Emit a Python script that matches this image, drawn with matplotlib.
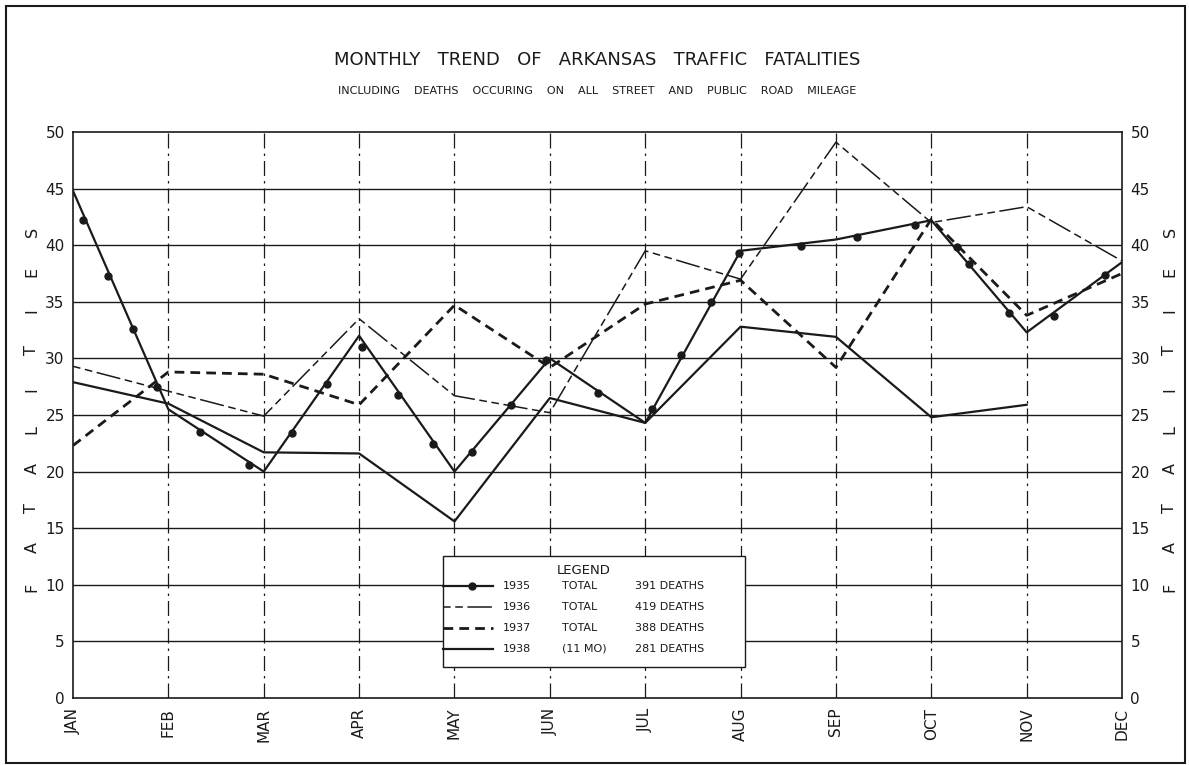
import matplotlib.pyplot as plt
from matplotlib.lines import Line2D
from matplotlib.patches import Rectangle

months = ['JAN', 'FEB', 'MAR', 'APR', 'MAY', 'JUN',
          'JUL', 'AUG', 'SEP', 'OCT', 'NOV', 'DEC']

# monthly fatalities
y1935 = [44.8, 25.5, 20.0, 32.0, 20.0, 30.0, 24.3, 39.5, 40.5, 42.2, 32.3, 38.5]
y1936 = [29.3, 27.1, 24.9, 33.5, 26.7, 25.2, 39.5, 37.0, 49.1, 42.0, 43.4, 38.6]
y1937 = [22.3, 28.8, 28.6, 25.9, 34.7, 29.2, 34.8, 36.9, 29.2, 42.3, 33.8, 37.5]
y1938 = [27.9, 26.0, 21.7, 21.6, 15.6, 26.5, 24.3, 32.8, 31.9, 24.8, 25.9]

# dots drawn along the 1935 line (month position, value)
dots1935_x = [0.10, 0.37, 0.63, 0.88, 1.33, 1.85, 2.30, 2.66, 3.03, 3.41, 3.77,
              4.18, 4.59, 4.96, 5.50, 6.07, 6.38, 6.69, 6.98, 7.63, 8.22, 8.83,
              9.27, 9.40, 9.81, 10.29, 10.82]
dots1935_y = [42.2, 37.3, 32.6, 27.5, 23.5, 20.6, 23.4, 27.7, 31.0, 26.8, 22.4,
              21.7, 25.9, 29.9, 26.9, 25.5, 30.3, 35.0, 39.3, 39.9, 40.7, 41.8,
              39.8, 38.3, 34.0, 33.7, 37.4]

legend_years = ['1935', '1936', '1937', '1938']
legend_kind = ['TOTAL', 'TOTAL', 'TOTAL', '(11 MO)']
legend_deaths = ['391 DEATHS', '419 DEATHS', '388 DEATHS', '281 DEATHS']

ink = '#1a1a1a'
plt.rcParams['font.family'] = ['DejaVu Sans']

fig = plt.figure(figsize=(11.89, 7.65), dpi=100)
ax = fig.add_axes([0.0614, 0.0876, 0.8823, 0.7399])

x = list(range(len(months)))

styles = {
    '1935': dict(ls='-', lw=1.6),
    '1936': dict(ls=(0, (5, 3, 5, 3, 16, 3)), lw=1.1),
    '1937': dict(ls=(0, (3.5, 2.2)), lw=2.0),
    '1938': dict(ls='-', lw=1.6),
}

ax.plot(x, y1935, color=ink, **styles['1935'], zorder=4)
ax.plot(dots1935_x, dots1935_y, 'o', color=ink, ms=5, zorder=5)
ax.plot(x, y1936, color=ink, **styles['1936'], zorder=4)
ax.plot(x, y1937, color=ink, **styles['1937'], zorder=4)
ax.plot(x[:len(y1938)], y1938, color=ink, **styles['1938'], zorder=4)

ax.set_xlim(0, 11)
ax.set_ylim(0, 50)
ax.set_yticks(range(0, 51, 5))
ax.set_xticks(x)
ax.set_xticklabels(months, rotation=90, fontsize=11)

# grid: solid horizontals, dash-dot verticals
for v in range(5, 50, 5):
    ax.axhline(v, color=ink, lw=1.0, zorder=1)
for m in range(1, 11):
    ax.axvline(m, color=ink, lw=0.9, ls=(0, (12, 4, 2, 4)), zorder=1)

for s in ax.spines.values():
    s.set_color(ink)
    s.set_linewidth(1.2)

ax.tick_params(axis='both', length=0, colors=ink, labelsize=11)
ax.tick_params(axis='x', pad=7)
ax.tick_params(axis='y', pad=6, labelright=True, labelleft=True)

# legend box drawn by hand
lx0, lx1, ly0, ly1 = 0.353, 0.641, 0.055, 0.251
ax.add_patch(Rectangle((lx0, ly0), lx1 - lx0, ly1 - ly0, transform=ax.transAxes,
                       facecolor='white', edgecolor=ink, lw=1.0, zorder=6))
ax.text(0.5 * (lx0 + lx1) - 0.01, 0.226, 'LEGEND', transform=ax.transAxes,
        ha='center', va='center', fontsize=9.5, color=ink, zorder=7)
rows = [0.198, 0.161, 0.124, 0.087]
for yr, kind, dth, ry in zip(legend_years, legend_kind, legend_deaths, rows):
    ax.add_line(Line2D([lx0, lx0 + 0.047], [ry, ry], transform=ax.transAxes,
                       color=ink, zorder=7, **styles[yr]))
    if yr == '1935':
        ax.plot([lx0 + 0.027], [ry], 'o', color=ink, ms=5,
                transform=ax.transAxes, zorder=8)
    ax.text(lx0 + 0.057, ry, yr, transform=ax.transAxes, va='center',
            fontsize=8, color=ink, zorder=7)
    ax.text(lx0 + 0.113, ry, kind, transform=ax.transAxes, va='center',
            fontsize=8, color=ink, zorder=7)
    ax.text(lx0 + 0.183, ry, dth, transform=ax.transAxes, va='center',
            fontsize=8, color=ink, zorder=7)

fig.text(0.502, 0.921, 'MONTHLY   TREND   OF   ARKANSAS   TRAFFIC   FATALITIES',
         ha='center', va='center', fontsize=13, color=ink)
fig.text(0.502, 0.881,
         'INCLUDING    DEATHS    OCCURING    ON    ALL    STREET    AND    PUBLIC    ROAD    MILEAGE',
         ha='center', va='center', fontsize=8, color=ink)

# spaced vertical axis titles on both sides
word = 'FATALITIES'
for i, ch in enumerate(word):
    yy = 1 - (587 - i * (587 - 232) / (len(word) - 1)) / 765
    for xx in (32 / 1189, 1170 / 1189):
        fig.text(xx, yy, ch, rotation=90, ha='center', va='center',
                 fontsize=11.5, color=ink)

# outer frame
fig.add_artist(Rectangle((0.005, 0.003), 0.992, 0.989, transform=fig.transFigure,
                         fill=False, edgecolor=ink, lw=1.5))

fig.savefig('out.png', dpi=100, facecolor='white')
